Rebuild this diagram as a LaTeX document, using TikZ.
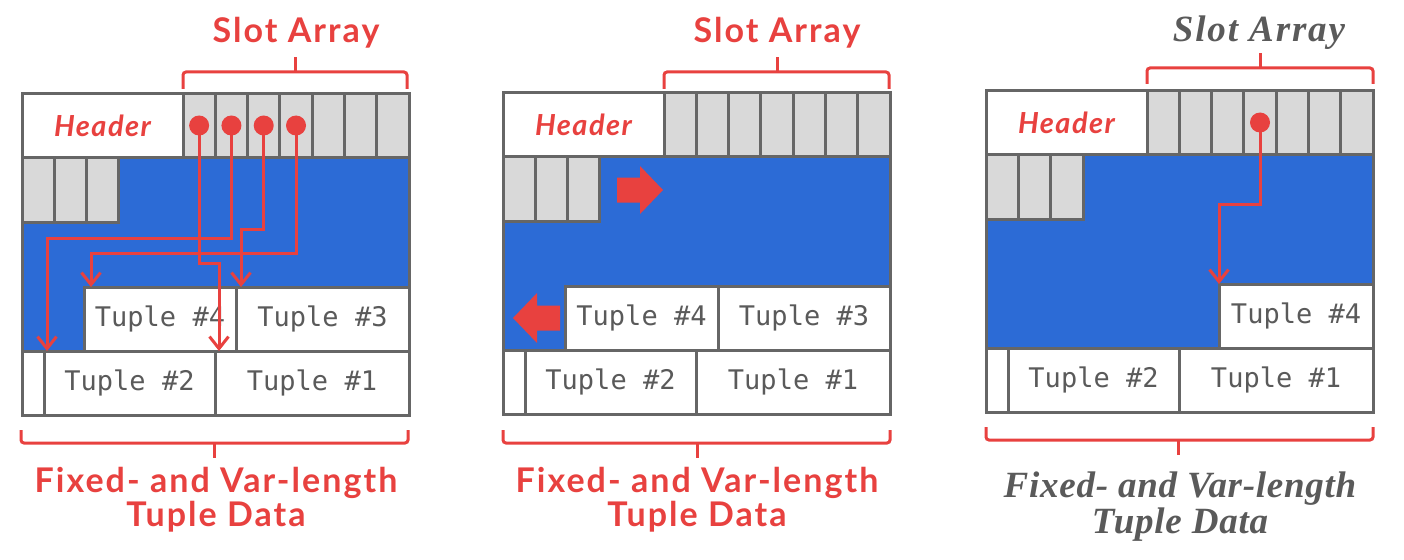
\documentclass[tikz,border=0pt]{standalone}
\usepackage{fontspec}
\newfontfamily\labfont{Lato}[LetterSpace=6]
\newfontfamily\hdrfont{Lato}[LetterSpace=5]
\newfontfamily\tuplefont{DejaVu Sans Mono}
\newfontfamily\serifbi{Liberation Serif}[LetterSpace=2]
\newfontfamily\serifbis{Liberation Serif}[LetterSpace=5]
\usetikzlibrary{arrows.meta,calc}
\definecolor{rd}{HTML}{E8413F}
\definecolor{bl}{HTML}{2C6BD6}
\definecolor{cg}{HTML}{D9D9D9}
\definecolor{bg}{HTML}{666666}
\definecolor{tg}{HTML}{5A5A5A}
\tikzset{
 box/.style={draw=bg, line width=3pt, inner sep=0pt, outer sep=0pt, anchor=north west},
 cell/.style={box, fill=cg},
 tup/.style={box, fill=white, font=\tuplefont\fontsize{27}{27}\selectfont, text=tg},
 hdr/.style={box, fill=white, font=\hdrfont\bfseries\itshape\fontsize{29}{29}\selectfont, text=rd},
 dot/.style={circle, fill=rd, minimum size=20pt, inner sep=0pt},
 conn/.style={draw=rd, line width=3pt, -{Straight Barb[length=12pt,width=19pt]}},
 brace/.style={draw=rd, line width=3pt, rounded corners=3pt},
 redlab/.style={text=rd, font=\labfont\bfseries\fontsize{34}{34}\selectfont, align=center},
 greylab/.style={text=tg, font=\serifbi\bfseries\itshape\fontsize{37}{36}\selectfont, align=center},
 greytop/.style={text=tg, font=\serifbis\bfseries\itshape\fontsize{37}{36}\selectfont, align=center},
 blockarrow/.style={fill=rd},
}
\newcommand\pagebase[1]{%
 \fill[bl] (0,63) rectangle (387,257);
 \node[hdr, minimum width=161pt, minimum height=63pt] (#1-hdr) at (0,0) {Header};
 \foreach \i in {1,...,7} {\node[cell, minimum width=32.2857pt, minimum height=63pt] (#1-s\i) at ({161+(\i-1)*32.2857},0) {};}
 \foreach \i in {1,2,3} {\node[cell, minimum width=32.33pt, minimum height=65pt] (#1-g\i) at ({(\i-1)*32.33},63) {};}
 \node[tup, minimum width=22pt, minimum height=64pt] (#1-t0) at (0,257) {};
 \node[tup, minimum width=171pt, minimum height=64pt] (#1-t2) at (22,257) {Tuple \#2};
 \node[tup, minimum width=194pt, minimum height=64pt] (#1-t1) at (193,257) {Tuple \#1};
}
\begin{document}
\begin{tikzpicture}[x=1pt,y=-1pt]
\useasboundingbox[fill=white] (0,0) rectangle (1404,559);
% ---------- panel 1
\begin{scope}[shift={(22,94)}]
 \pagebase{a}
 \node[tup, minimum width=152pt, minimum height=64pt] (a-t4) at (62,193) {Tuple \#4};
 \node[tup, minimum width=173pt, minimum height=64pt] (a-t3) at (214,193) {Tuple \#3};
 \draw[bg, line width=3pt] (0,0) rectangle (387,321);
 \draw[conn] (a-s1.center) -- (a-s1.center |- 0,169) -| ([xshift=4pt]a-t1.north west);
 \draw[conn] (a-s2.center) -- (a-s2.center |- 0,144) -| ([xshift=3pt]a-t2.north west);
 \draw[conn] (a-s3.center) -- (a-s3.center |- 0,135) -| ([xshift=5pt]a-t3.north west);
 \draw[conn] (a-s4.center) -- (a-s4.center |- 0,159) -| ([xshift=7pt]a-t4.north west);
 \foreach \i in {1,...,4} {\node[dot] (a-d\i) at (a-s\i.center) {};}
\end{scope}
\draw[brace] (183,89) -- (183,72) -- (407,72) -- (407,89);
\draw[brace] (295,72) -- (295,57);
\draw[brace] (21,430) -- (21,443) -- (408,443) -- (408,430);
\draw[brace] (214,443) -- (214,458);
\node[redlab] (a-slot) at (296,33) {Slot Array};
\node[redlab] (a-data) at (216,500) {Fixed- and Var-length\\Tuple Data};
% ---------- panel 2
\begin{scope}[shift={(503,93)}]
 \pagebase{b}
 \node[tup, minimum width=153pt, minimum height=64pt] (b-t4) at (62,193) {Tuple \#4};
 \node[tup, minimum width=172pt, minimum height=64pt] (b-t3) at (215,193) {Tuple \#3};
 \draw[bg, line width=3pt] (0,0) rectangle (387,321);
 \fill[blockarrow] (114,84.5) -- (137,84.5) -- (137,73) -- (160,97) -- (137,121) -- (137,109.5) -- (114,109.5) -- cycle;
 \fill[blockarrow] (57,212.5) -- (34,212.5) -- (34,200) -- (10,225) -- (34,250) -- (34,237.5) -- (57,237.5) -- cycle;
\end{scope}
\draw[brace] (664,89) -- (664,72) -- (889,72) -- (889,89);
\draw[brace] (777,72) -- (777,57);
\draw[brace] (503,430) -- (503,443) -- (890,443) -- (890,430);
\draw[brace] (697,443) -- (697,458);
\node[redlab] (b-slot) at (777,33) {Slot Array};
\node[redlab] (b-data) at (697,500) {Fixed- and Var-length\\Tuple Data};
% ---------- panel 3
\begin{scope}[shift={(986,91)}]
 \pagebase{c}
 \node[tup, minimum width=154pt, minimum height=64pt] (c-t4) at (233,193) {Tuple \#4};
 \draw[bg, line width=3pt] (0,0) rectangle (387,321);
 \draw[conn] (c-s4.center) -- (c-s4.center |- 0,113) -| ([xshift=0pt]c-t4.north west);
 \node[dot] (c-d4) at (c-s4.center) {};
\end{scope}
\draw[brace] (1147,84) -- (1147,68) -- (1373,68) -- (1373,84);
\draw[brace] (1260,68) -- (1260,53);
\draw[brace] (986,427) -- (986,440) -- (1373,440) -- (1373,427);
\draw[brace] (1178,440) -- (1178,455);
\node[greytop] (c-slot) at (1259,33) {Slot Array};
\node[greylab] (c-data) at (1180,507) {Fixed- and Var-length\\Tuple Data};
\end{tikzpicture}
\end{document}
